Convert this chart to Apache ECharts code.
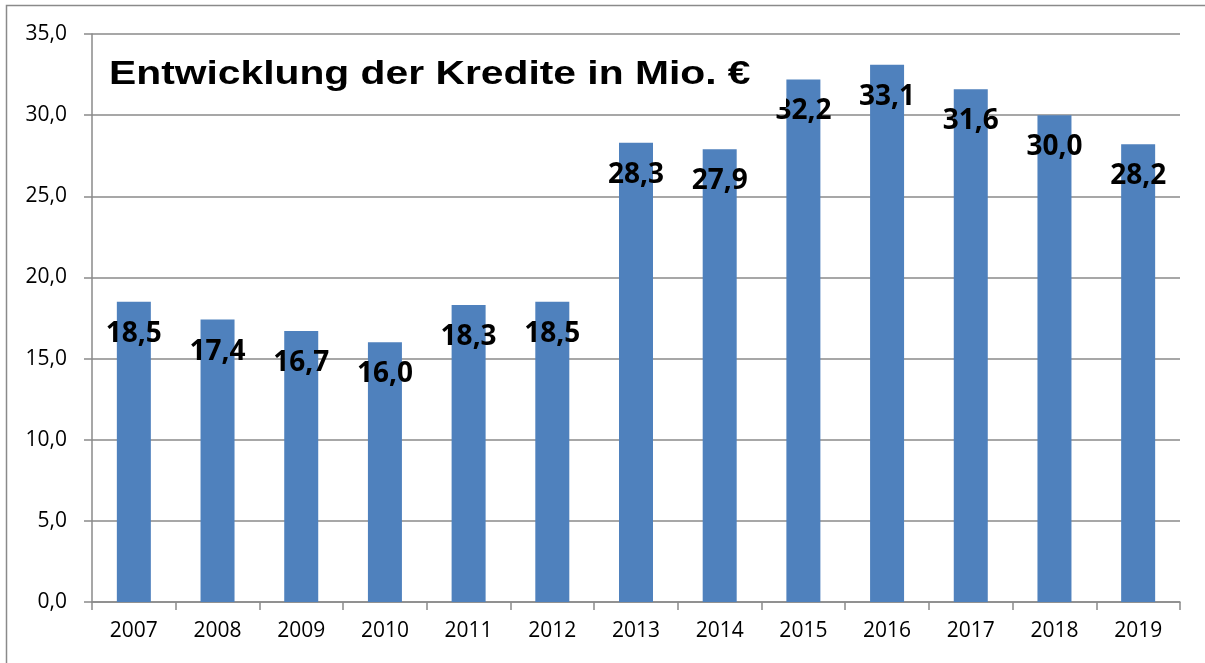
<!DOCTYPE html>
<html>
<head>
<meta charset="utf-8">
<script src="https://cdn.jsdelivr.net/npm/echarts@6/dist/echarts.min.js"></script>
<style>
  html, body { margin: 0; padding: 0; background: #fff; }
  #chart { width: 1205px; height: 663px; }
</style>
</head>
<body>
<div id="chart"></div>
<script>
// Kreditvolumen je Jahr (Mio. €)
const years = ['2007', '2008', '2009', '2010', '2011', '2012', '2013', '2014', '2015', '2016', '2017', '2018', '2019'];
const credits = [18.5, 17.4, 16.7, 16.0, 18.3, 18.5, 28.3, 27.9, 32.2, 33.1, 31.6, 30.0, 28.2];
const titleText = 'Entwicklung der Kredite in Mio. €';

const fmt = v => Number(v).toFixed(1).replace('.', ',');
const gray = '#8a8a8a';

const chart = echarts.init(document.getElementById('chart'), null, { renderer: 'canvas' });

chart.setOption({
  backgroundColor: '#ffffff',
  animation: false,
  grid: { left: 92, right: 25, top: 34, bottom: 61, containLabel: false },
  xAxis: {
    type: 'category',
    data: years,
    boundaryGap: true,
    axisLine: { lineStyle: { color: gray, width: 1.5 } },
    axisTick: { show: true, alignWithLabel: false, length: 8, lineStyle: { color: gray, width: 1.5 } },
    axisLabel: { color: '#000', fontFamily: 'Open Sans', fontSize: 21, margin: 19 }
  },
  yAxis: {
    type: 'value',
    min: 0,
    max: 35,
    interval: 5,
    axisLine: { show: true, lineStyle: { color: gray, width: 1.5 } },
    axisTick: { show: true, length: 8, lineStyle: { color: gray, width: 1.5 } },
    splitLine: { show: true, lineStyle: { color: gray, width: 1.5 } },
    axisLabel: { color: '#000', fontFamily: 'Open Sans', fontSize: 21, margin: 25, formatter: fmt }
  },
  series: [{
    type: 'bar',
    data: credits,
    barWidth: 34,
    itemStyle: { color: '#4f81bd' },
    label: {
      show: true,
      position: ['50%', 32],
      align: 'center',
      verticalAlign: 'middle',
      color: '#000',
      fontFamily: 'Open Sans',
      fontWeight: 'bold',
      fontSize: 28,
      formatter: p => fmt(p.value)
    }
  }],
  graphic: [
    {
      type: 'rect',
      z: 0,
      silent: true,
      shape: { x: 6.5, y: 5.5, width: 1300, height: 700 },
      style: { fill: 'none', stroke: gray, lineWidth: 1.5 }
    },
    {
      // Titelfeld mit weißem Hintergrund
      type: 'rect',
      z: 100,
      silent: true,
      shape: { x: 100, y: 42, width: 686, height: 65 },
      style: { fill: '#ffffff' }
    },
    {
      type: 'text',
      z: 101,
      silent: true,
      x: 109,
      y: 75,
      scaleX: 1.2,
      style: {
        text: titleText,
        fill: '#000',
        font: 'bold 34px "Liberation Sans", Arial, sans-serif',
        align: 'left',
        verticalAlign: 'middle'
      }
    }
  ]
});
</script>
</body>
</html>
